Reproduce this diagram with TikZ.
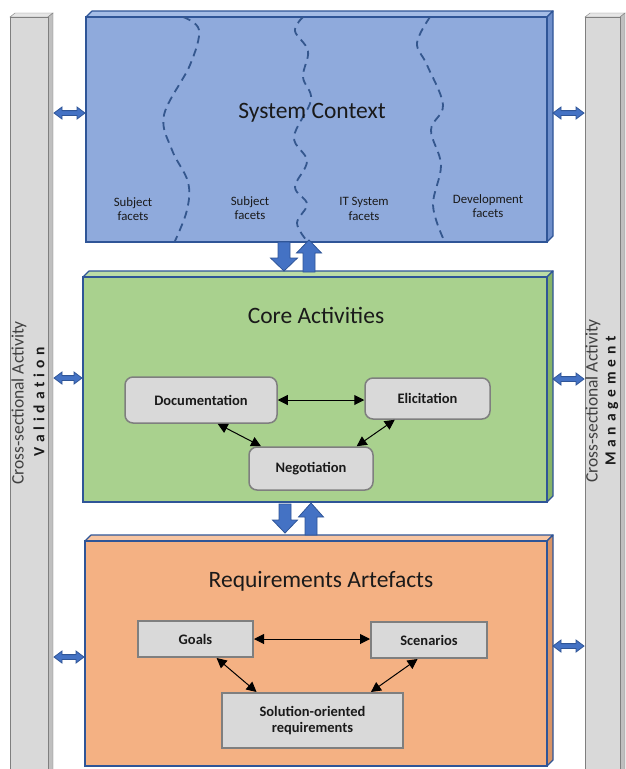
\documentclass[tikz,border=0pt]{standalone}
\usepackage{fontspec}
\setmainfont{Carlito}
\usetikzlibrary{arrows.meta}

% palette
\definecolor{ctxfront}{HTML}{8FAADC}
\definecolor{ctxtop}{HTML}{A4BCE6}
\definecolor{ctxside}{HTML}{6F8FCB}
\definecolor{corefront}{HTML}{A9D18E}
\definecolor{coretop}{HTML}{BCDCA6}
\definecolor{coreside}{HTML}{86B468}
\definecolor{artfront}{HTML}{F4B183}
\definecolor{arttop}{HTML}{F7C5A2}
\definecolor{artside}{HTML}{D99466}
\definecolor{boxline}{HTML}{2F5597}
\definecolor{barfront}{HTML}{D9D9D9}
\definecolor{bartop}{HTML}{E6E6E6}
\definecolor{barside}{HTML}{BFBFBF}
\definecolor{barline}{HTML}{7F7F7F}
\definecolor{arrowfill}{HTML}{4472C4}
\definecolor{arrowline}{HTML}{2F5597}
\definecolor{facetcol}{HTML}{34578E}
\definecolor{nodegray}{HTML}{D9D9D9}
\definecolor{nodeline}{HTML}{7F7F7F}
\definecolor{inkdark}{HTML}{1A1A1A}

% a box with a shallow top face and right side face
\newcommand\slabbox[8]{%
  \filldraw[fill=#6,draw=#8,line width=1.2pt,line join=round] (#1,#2) -- (#1+6,#2-6) -- (#3+6,#2-6) -- (#3,#2) -- cycle;
  \filldraw[fill=#7,draw=#8,line width=1.2pt,line join=round] (#3,#2) -- (#3+6,#2-6) -- (#3+6,#4-6) -- (#3,#4) -- cycle;
  \filldraw[fill=#5,draw=#8,line width=1.2pt] (#1,#2) rectangle (#3,#4);}

% grey side pillar
\newcommand\pillar[2]{%
  \filldraw[fill=bartop,draw=barline] (#1,17) -- (#1+5,13) -- (#2+5,13) -- (#2,17) -- cycle;
  \filldraw[fill=barside,draw=barline] (#2,17) -- (#2+5,13) -- (#2+5,780) -- (#2,780) -- cycle;
  \filldraw[fill=barfront,draw=barline] (#1,17) rectangle (#2,780);}

% horizontal double block arrow: y, x-left, x-right
\newcommand\dblharrow[3]{%
  \filldraw[blockarrow] (#2,#1) -- (#2+8,#1-6) -- (#2+8,#1-2.4) -- (#3-8,#1-2.4)
    -- (#3-8,#1-6) -- (#3,#1) -- (#3-8,#1+6) -- (#3-8,#1+2.4) -- (#2+8,#1+2.4)
    -- (#2+8,#1+6) -- cycle;}

% vertical block arrow: x-centre, y-tail, y-tip, head base y, shaft half, head half
\newcommand\vblockarrow[6]{%
  \filldraw[blockarrow] (#1-#5,#2) -- (#1-#5,#4) -- (#1-#6,#4) -- (#1,#3)
    -- (#1+#6,#4) -- (#1+#5,#4) -- (#1+#5,#2) -- cycle;}

% letter-spaced word
\newcommand\spreadword[1]{\spreadloop#1\relax\kern-4.8pt}
\def\spreadloop#1{\ifx#1\relax\else#1\kern4.8pt\expandafter\spreadloop\fi}

\tikzset{
  blockarrow/.style={fill=arrowfill,draw=arrowline,line width=0.8pt,line join=miter},
  facetline/.style={draw=facetcol,line width=1.8pt,dash pattern=on 8pt off 5.5pt},
  titletext/.style={anchor=base,text=inkdark,font=\fontsize{23.5}{27}\selectfont},
  facettext/.style={align=center,text=inkdark,font=\fontsize{12.8}{14.5}\selectfont},
  actnode/.style={rectangle,rounded corners=8pt,draw=nodeline,fill=nodegray,
    line width=1.5pt,inner sep=0pt,text=inkdark,font=\fontsize{14.5}{16}\selectfont\bfseries},
  artnode/.style={rectangle,draw=nodeline,fill=nodegray,line width=2pt,inner sep=0pt,
    align=center,text=inkdark,font=\fontsize{14.5}{16}\selectfont\bfseries},
  link/.style={{Triangle[length=10pt,width=10pt]}-{Triangle[length=10pt,width=10pt]},
    line width=1pt,black},
  sidetext/.style={rotate=90,text=black!75,font=\fontsize{17.5}{20}\selectfont},
  sidebold/.style={rotate=90,text=inkdark,font=\fontsize{15.5}{17}\selectfont\bfseries},
}

\begin{document}
\begin{tikzpicture}[x=1pt,y=-1pt]
\useasboundingbox (0,0) rectangle (625,769);

% side pillars
\pillar{10}{48}
\pillar{585}{620}

% layer boxes
\slabbox{86}{17}{547}{242}{ctxfront}{ctxtop}{ctxside}{boxline}
\slabbox{83}{277}{547}{502}{corefront}{coretop}{coreside}{boxline}
\slabbox{85}{541}{547}{766}{artfront}{arttop}{artside}{boxline}

% facet boundaries
\draw[facetline] plot[smooth,tension=0.6] coordinates
  {(183,17) (199,30) (190,65) (164,115) (172,150) (188,182) (187,210) (175,241)};
\draw[facetline] plot[smooth,tension=0.6] coordinates
  {(303,17) (295,31) (308,51) (303,77) (311,100) (294,137) (307,161) (295,187) (307,204) (297,223) (307,241)};
\draw[facetline] plot[smooth,tension=0.6] coordinates
  {(430,17) (417,43) (427,65) (443,105) (431,130) (441,165) (433,205) (443,238)};

% titles
\node[titletext] (ctxtitle) at (312,118) {System Context};
\node[titletext] (coretitle) at (316,323) {Core Activities};
\node[titletext] (arttitle) at (321,587) {Requirements Artefacts};

% facet labels
\node[facettext] (facetA) at (133,209) {Subject\\facets};
\node[facettext] (facetB) at (250,208) {Subject\\facets};
\node[facettext] (facetC) at (364,209) {IT System\\facets};
\node[facettext] (facetD) at (488,206) {Development\\facets};

% core activities
\node[actnode,minimum width=152pt,minimum height=46pt] (doc) at (201,400) {Documentation};
\node[actnode,minimum width=125pt,minimum height=41pt] (eli) at (427.5,398.5) {Elicitation};
\node[actnode,minimum width=124pt,minimum height=43pt] (neg) at (311,468.5) {Negotiation};
\draw[link] (doc.east) -- (doc.east -| eli.west);
\draw[link] (doc.-55) -- (neg.156.7);
\draw[link] (eli.213.9) -- (neg.26);

% requirements artefacts
\node[artnode,minimum width=115pt,minimum height=36pt] (goals) at (195.5,639) {Goals};
\node[artnode,minimum width=116pt,minimum height=36pt] (scen) at (429,640) {Scenarios};
\node[artnode,minimum width=181pt,minimum height=55pt] (sol) at (312.5,720.5) {Solution-oriented\\requirements};
\draw[link] (goals.east) -- (goals.east -| scen.west);
\draw[link] (goals.-42.7) -- (sol.153.6);
\draw[link] (scen.-121.4) -- (sol.26.8);

% flows between layers
\vblockarrow{284}{242}{271}{258}{6}{13.5}
\vblockarrow{309}{272}{240}{253}{6}{12.5}
\vblockarrow{285}{504}{533}{520}{6}{12.5}
\vblockarrow{311}{535}{503}{517}{6}{12.5}

% links to the pillars
\dblharrow{113}{54}{85}
\dblharrow{378}{54}{82}
\dblharrow{657}{54}{84}
\dblharrow{113}{553}{584}
\dblharrow{379}{553}{584}
\dblharrow{646}{553}{584}

% pillar captions
\node[sidetext] (valcap) at (19,403) {Cross-sectional Activity};
\node[sidebold] (valname) at (39,402) {\spreadword{Validation}};
\node[sidetext] (mgmtcap) at (593,401) {Cross-sectional Activity};
\node[sidebold] (mgmtname) at (612,401) {\spreadword{Management}};
\end{tikzpicture}
\end{document}
